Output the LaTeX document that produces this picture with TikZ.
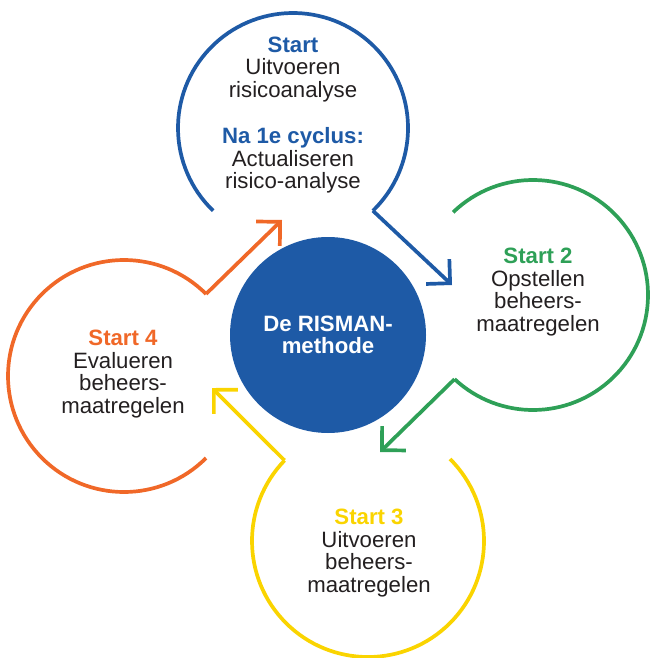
\documentclass[tikz,border=0pt]{standalone}
\usepackage{fontspec}
\setmainfont{Liberation Sans}
\usetikzlibrary{arrows.meta}
\definecolor{rblue}{RGB}{30,90,166}
\definecolor{rgreen}{RGB}{46,160,87}
\definecolor{ryellow}{RGB}{250,212,0}
\definecolor{rorange}{RGB}{240,104,40}
\definecolor{rtext}{RGB}{35,31,32}
\begin{document}
\begin{tikzpicture}[x=1pt,y=-1pt,
    ring/.style={line width=3.7pt},
    arr/.style={line width=3.7pt,-{Straight Barb[length=17pt,width=34pt]}},
    txt/.style={align=center,text=rtext,font=\fontsize{22.2}{22.5}\selectfont},
    hub/.style={circle,fill=rblue,minimum size=196pt,text=white,align=center,
      font=\fontsize{22.2}{22.5}\selectfont\bfseries}]
  \useasboundingbox (0,0) rectangle (649,658);
  % centres of the four rings
  \coordinate (c1) at (293,128);
  \coordinate (c2) at (533,295);
  \coordinate (c3) at (368,541);
  \coordinate (c4) at (124,376);
  % arrow tips
  \coordinate (t2) at (452,285);
  \coordinate (t3) at (380,452);
  \coordinate (t4) at (212,388);
  \coordinate (t1) at (282,220);
  % rings
  \draw[ring,rblue] (c1) ++(134:115) arc[start angle=134,end angle=406,radius=115] coordinate (e1);
  \draw[ring,rgreen] (c2) ++(226:115) arc[start angle=226,end angle=493,radius=115] coordinate (e2);
  \draw[ring,ryellow] (c3) ++(315:116) arc[start angle=315,end angle=584,radius=116] coordinate (e3);
  \draw[ring,rorange] (c4) ++(45:116) arc[start angle=45,end angle=315,radius=116] coordinate (e4);
  % arrows
  \draw[arr,rblue] (e1) -- (t2);
  \draw[arr,rgreen] (e2) -- (t3);
  \draw[arr,ryellow] (e3) -- (t4);
  \draw[arr,rorange] (e4) -- (t1);
  % hub and texts
  \node[hub] (risman) at (328,335) {De RISMAN-\\methode};
  \node[txt] (s1) at (293,115) {\textcolor{rblue}{\bfseries Start}\\Uitvoeren\\risicoanalyse\\[24pt]
    \textcolor{rblue}{\bfseries Na 1e cyclus:}\\Actualiseren\\risico-analyse};
  \node[txt] (s2) at (538,292) {\textcolor{rgreen}{\bfseries Start 2}\\Opstellen\\beheers-\\maatregelen};
  \node[txt] (s3) at (369,553) {\textcolor{ryellow}{\bfseries Start 3}\\Uitvoeren\\beheers-\\maatregelen};
  \node[txt] (s4) at (123,374) {\textcolor{rorange}{\bfseries Start 4}\\Evalueren\\beheers-\\maatregelen};
\end{tikzpicture}
\end{document}
